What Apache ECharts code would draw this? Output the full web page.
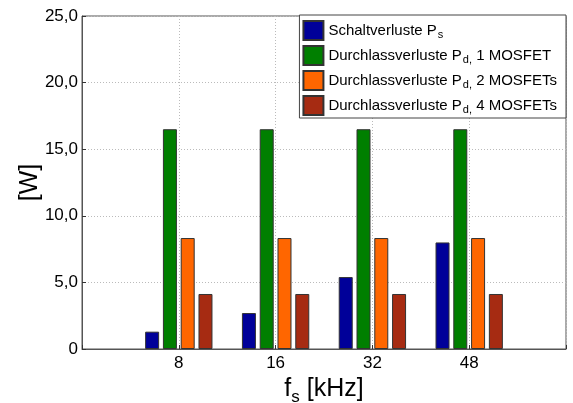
<!DOCTYPE html>
<html>
<head>
<meta charset="utf-8">
<script src="https://cdn.jsdelivr.net/npm/echarts@6/dist/echarts.min.js"></script>
<style>html,body{margin:0;padding:0;background:#fff}#c{width:573px;height:403px}</style>
</head>
<body>
<div id="c"></div>
<script>
var categories = ['8', '16', '32', '48'];
var schaltverluste = [1.3, 2.7, 5.4, 8.0];
var durchlass1 = [16.5, 16.5, 16.5, 16.5];
var durchlass2 = [8.33, 8.33, 8.33, 8.33];
var durchlass4 = [4.13, 4.13, 4.13, 4.13];
var yTickLabels = ['0', '5,0', '10,0', '15,0', '20,0', '25,0'];
var seriesNames = ['Schaltverluste Ps', 'Durchlassverluste Pd, 1 MOSFET', 'Durchlassverluste Pd, 2 MOSFETs', 'Durchlassverluste Pd, 4 MOSFETs'];
var legendRich = {
  'Schaltverluste Ps': 'Schaltverluste P{sub|s}',
  'Durchlassverluste Pd, 1 MOSFET': 'Durchlassverluste P{sub|d,} 1 MOSFET',
  'Durchlassverluste Pd, 2 MOSFETs': 'Durchlassverluste P{sub|d,} 2 MOSFETs',
  'Durchlassverluste Pd, 4 MOSFETs': 'Durchlassverluste P{sub|d,} 4 MOSFETs'
};
var colors = ['#000099', '#007f00', '#ff6600', '#a62b12'];

var axisCats = [''].concat(categories).concat(['']);
function pad(a) { return [null].concat(a).concat([null]); }
var allData = [schaltverluste, durchlass1, durchlass2, durchlass4];

var font = 'Liberation Sans, Arial, sans-serif';
var chart = echarts.init(document.getElementById('c'), null, {renderer: 'canvas'});
chart.setOption({
  animation: false,
  backgroundColor: '#fff',
  grid: {left: 82, right: 7, top: 16, bottom: 54, outerBoundsMode: 'none', containLabel: false,
    show: true, borderColor: '#555', borderWidth: 1, backgroundColor: 'transparent'},
  legend: {
    orient: 'vertical', right: 7, top: 15,
    backgroundColor: '#fff', borderColor: '#444', borderWidth: 1,
    padding: [3, 9, 2, 3],
    icon: 'rect',
    itemWidth: 20, itemHeight: 19, itemGap: 2,
    data: seriesNames,
    formatter: function (n) { return legendRich[n]; },
    textStyle: {
      fontFamily: font, fontSize: 15, color: '#000', lineHeight: 19,
      rich: { sub: {fontFamily: font, fontSize: 11, color: '#000', lineHeight: 19, verticalAlign: 'bottom', padding: [11, 0, 0, 1]} }
    }
  },
  xAxis: {
    type: 'category', data: axisCats, boundaryGap: false,
    name: '{m|f}{s|s}{m| [kHz]}', nameLocation: 'middle', nameGap: 19,
    nameTextStyle: {fontFamily: font, rich: {m: {fontFamily: font, fontSize: 25, color: '#000'}, s: {fontFamily: font, fontSize: 17, color: '#000', padding: [16, 0, 0, 0]}}},
    axisLine: {show: true, lineStyle: {color: '#555', width: 1}},
    axisTick: {show: true, inside: true, length: 4, lineStyle: {color: '#333'}},
    axisLabel: {fontFamily: font, fontSize: 17, color: '#000', margin: 6},
    splitLine: {show: true, lineStyle: {color: '#bbb', type: [1, 2], width: 1}}
  },
  yAxis: {
    type: 'value', min: 0, max: 25, interval: 5,
    name: '[W]', nameLocation: 'middle', nameGap: 39, nameMoveOverlap: false,
    nameTextStyle: {fontFamily: font, fontSize: 25, color: '#000'},
    axisLine: {show: true, lineStyle: {color: '#555', width: 1}},
    axisTick: {show: true, inside: true, length: 4, lineStyle: {color: '#333'}},
    axisLabel: {fontFamily: font, fontSize: 17, color: '#000', margin: 4,
      formatter: function (v) { return yTickLabels[Math.round(v / 5)]; }},
    splitLine: {show: true, lineStyle: {color: '#bbb', type: [1, 2], width: 1}}
  },
  series: seriesNames.map(function (n, i) {
    return {
      name: n, type: 'bar', data: pad(allData[i]),
      barWidth: 14, barGap: '27%',
      itemStyle: {color: colors[i], borderColor: '#333', borderWidth: 1}
    };
  })
});
</script>
</body>
</html>
